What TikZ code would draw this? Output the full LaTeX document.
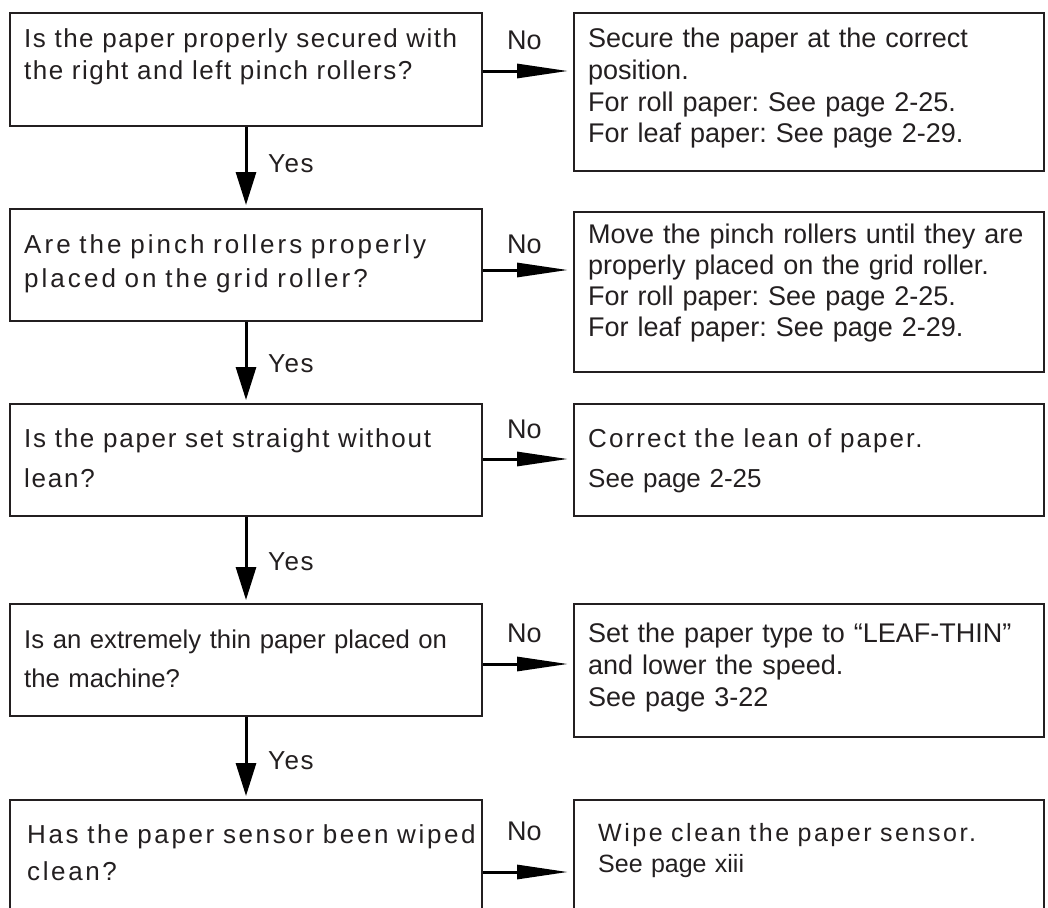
\documentclass[tikz,border=0pt]{standalone}
\usepackage{fontspec}
\setmainfont{Liberation Sans}
\usetikzlibrary{arrows.meta,positioning}
\definecolor{inkgray}{HTML}{231F20}
\frenchspacing
% size, baselineskip, tracking
\newcommand{\boxfont}[3]{\fontsize{#1}{#2}\selectfont\addfontfeature{LetterSpace=#3}}
\tikzset{
  check box/.style={draw=inkgray,line width=2pt,anchor=north west,inner sep=0pt},
  box text/.style={anchor=base west,align=left,inner sep=0pt,text=inkgray,text width=462pt},
  yes arrow/.style={line width=3pt,shorten >=3pt,-{Triangle[length=33pt,width=20pt]}},
  no arrow/.style={line width=3pt,shorten >=5pt,-{Triangle[length=51pt,width=14pt]}},
  branch label/.style={anchor=base west,inner sep=0pt,text=inkgray}
}

\begin{document}
\begin{tikzpicture}[x=1pt,y=-1pt]
  \useasboundingbox (0,0) rectangle (1048,907);

  % Questions down the left column.
  \node[check box,minimum width=472pt,minimum height=113pt] (q1) at (9,12)  {};
  \node[check box,minimum width=472pt,minimum height=112pt] (q2) at (9,208) {};
  \node[check box,minimum width=472pt,minimum height=112pt] (q3) at (9,403) {};
  \node[check box,minimum width=472pt,minimum height=112pt] (q4) at (9,603) {};
  \node[check box,minimum width=472pt,minimum height=130pt] (q5) at (9,799) {};

  % Remedies down the right column.
  \node[check box,minimum width=470pt,minimum height=158pt] (a1) at (573,12)  {};
  \node[check box,minimum width=470pt,minimum height=160pt] (a2) at (573,211) {};
  \node[check box,minimum width=470pt,minimum height=112pt] (a3) at (573,403) {};
  \node[check box,minimum width=470pt,minimum height=133pt] (a4) at (573,603) {};
  \node[check box,minimum width=470pt,minimum height=130pt] (a5) at (573,799) {};

  \node[box text,font=\boxfont{26}{32}{5.7}] (q1 text) at (24,48)
    {Is the paper properly secured with\\the right and left pinch rollers?};
  \node[box text,font=\boxfont{26}{34}{11.7}] (q2 text) at (24,253)
    {Are the pinch rollers properly\\placed on the grid roller?};
  \node[box text,font=\boxfont{26}{40}{6.7}] (q3 text) at (24,447)
    {Is the paper set straight without\\lean?};
  \node[box text,font=\boxfont{25.7}{39}{0}] (q4 text) at (24,648)
    {Is an extremely thin paper placed on\\the machine?};
  \node[box text,font=\boxfont{26}{37}{10.1}] (q5 text) at (27,843)
    {Has the paper sensor been wiped\\clean?};

  \node[box text,font=\boxfont{27}{31.5}{0}] (a1 text) at (588,48)
    {Secure the paper at the correct\\position.\\For roll paper: See page 2-25.\\For leaf paper: See page 2-29.};
  \node[box text,font=\boxfont{27}{31.3}{0}] (a2 text) at (588,243)
    {Move the pinch rollers until they are\\properly placed on the grid roller.\\For roll paper: See page 2-25.\\For leaf paper: See page 2-29.};
  \node[box text,font=\boxfont{26}{40}{0}] (a3 text) at (588,447)
    {{\addfontfeature{LetterSpace=8}Correct the lean of paper.}\\See page 2-25};
  \node[box text,font=\boxfont{27}{32}{0}] (a4 text) at (588,642)
    {Set the paper type to “LEAF-THIN”\\and lower the speed.\\See page 3-22};
  \node[box text,font=\boxfont{25}{31}{0}] (a5 text) at (598,841)
    {{\addfontfeature{LetterSpace=10.2}Wipe clean the paper sensor.}\\See page xiii};

  % Yes branches.
  \draw[yes arrow] (q1.south) -- (q2.north);
  \draw[yes arrow] (q2.south) -- (q3.north);
  \draw[yes arrow] (q3.south) -- (q4.north);
  \draw[yes arrow] (q4.south) -- (q5.north);
  \node[branch label,font=\boxfont{26}{30}{6}] (yes1) at (268,172) {Yes};
  \node[branch label,font=\boxfont{26}{30}{6}] (yes2) at (268,372) {Yes};
  \node[branch label,font=\boxfont{26}{30}{6}] (yes3) at (268,570) {Yes};
  \node[branch label,font=\boxfont{26}{30}{6}] (yes4) at (268,769) {Yes};

  % No branches.
  \draw[no arrow] ([yshift=-1.5pt]q1.east) -- ([yshift=-1.5pt]q1.east -| a1.west);
  \draw[no arrow] ([yshift=-5pt]q2.east) -- ([yshift=-5pt]q2.east -| a2.west);
  \draw[no arrow] ([yshift=1pt]q3.east) -- ([yshift=1pt]q3.east -| a3.west);
  \draw[no arrow] ([yshift=-4pt]q4.east) -- ([yshift=-4pt]q4.east -| a4.west);
  \draw[no arrow] ([yshift=-7pt]q5.east) -- ([yshift=-7pt]q5.east -| a5.west);
  \node[branch label,font=\boxfont{27}{30}{0}] (no1) at (507,49)  {No};
  \node[branch label,font=\boxfont{27}{30}{0}] (no2) at (507,253) {No};
  \node[branch label,font=\boxfont{27}{30}{0}] (no3) at (507,438) {No};
  \node[branch label,font=\boxfont{27}{30}{0}] (no4) at (507,642) {No};
  \node[branch label,font=\boxfont{27}{30}{0}] (no5) at (507,840) {No};
\end{tikzpicture}
\end{document}
